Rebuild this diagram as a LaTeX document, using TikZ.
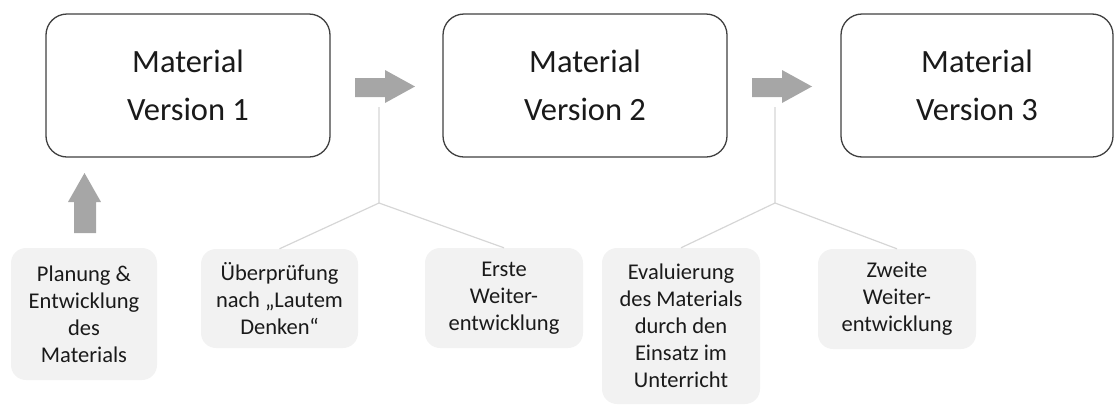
\documentclass[tikz,border=0pt]{standalone}
\usepackage{fontspec}
\setmainfont{Carlito}
\definecolor{framegray}{HTML}{404040}
\definecolor{arrowgray}{HTML}{A6A6A6}
\definecolor{notefill}{HTML}{F2F2F2}
\definecolor{linkgray}{HTML}{D6D6D6}
\definecolor{inkgray}{HTML}{1A1A1A}
\begin{document}
\begin{tikzpicture}[x=1pt,y=-1pt,
  versionbox/.style={draw=framegray, line width=1.3pt, rounded corners=21pt,
    fill=white, inner sep=0pt, align=center, text=inkgray,
    font=\fontsize{32.5}{48}\selectfont},
  notebox/.style={fill=notefill, rounded corners=15pt, inner sep=0pt,
    align=center, text=inkgray, font=\fontsize{22.5}{27}\selectfont},
  link/.style={draw=linkgray, line width=1.2pt},
  blockarrow/.style={fill=arrowgray}]
\useasboundingbox (0,0) rectangle (1116,405);
\clip (0,0) rectangle (1116,405);

% material versions
\node[versionbox, minimum width=284pt, minimum height=143pt] (v1) at (188,85.5)
  {Material\\Version 1};
\node[versionbox, minimum width=284pt, minimum height=143pt] (v2) at (585,85.5)
  {Material\\Version 2};
\node[versionbox, minimum width=272pt, minimum height=143pt] (v3) at (977,85.5)
  {Material\\Version 3};

% block arrows between versions
\fill[blockarrow] (355,78) -- (385,78) -- (385,70) -- (415,86.5) -- (385,103)
  -- (385,97) -- (355,97) -- cycle;
\fill[blockarrow] (752,78) -- (782,78) -- (782,70) -- (812,86.5) -- (782,103)
  -- (782,97) -- (752,97) -- cycle;
% block arrow up to the first version
\fill[blockarrow] (74,233) -- (74,202) -- (68,202) -- (84.5,173) -- (101,202)
  -- (96,202) -- (96,233) -- cycle;

% process steps
\node[notebox, minimum width=146pt, minimum height=132pt] (plan) at (84,314)
  {Planung \&\\Entwicklung\\des\\Materials};
\node[notebox, minimum width=157pt, minimum height=99pt] (check) at (279.5,298.5)
  {Überprüfung\\nach „Lautem\\Denken“};
\node[notebox, minimum width=158pt, minimum height=100pt] (dev1) at (504,298)
  {Erste\\Weiter-\\entwicklung};
\node[notebox, minimum width=158pt, minimum height=156pt] (eval) at (681,326)
  {Evaluierung\\des Materials\\durch den\\Einsatz im\\Unterricht};
\node[notebox, minimum width=158pt, minimum height=100pt] (dev2) at (897,299)
  {Zweite\\Weiter-\\entwicklung};

% branching connectors
\coordinate (t1) at (379,107);
\coordinate (j1) at (379,203);
\coordinate (t2) at (775,107);
\coordinate (j2) at (775,203);
\draw[link] (t1) -- (j1) -- (check.north);
\draw[link] (j1) -- (dev1.north);
\draw[link] (t2) -- (j2) -- (eval.north);
\draw[link] (j2) -- (dev2.north);
\end{tikzpicture}
\end{document}
